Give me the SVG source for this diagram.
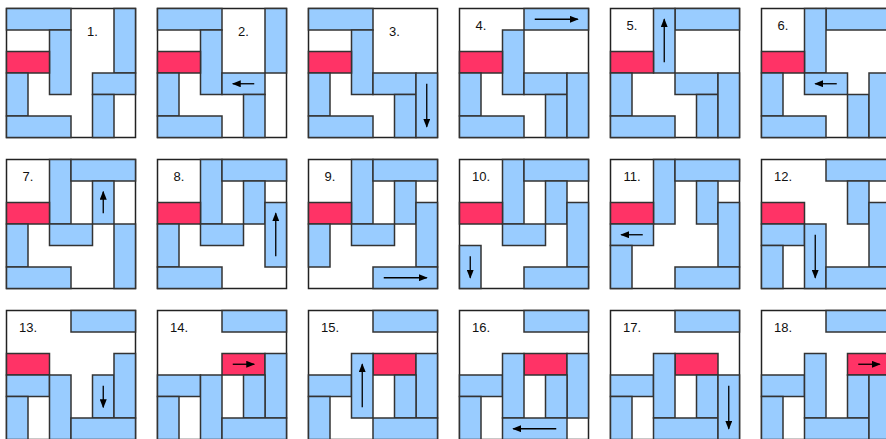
<svg xmlns="http://www.w3.org/2000/svg" width="886" height="439" viewBox="0 0 886 439">
<style>
.bd{fill:#fff;stroke:#222;stroke-width:1.5}
.b{fill:#99ccff;stroke:#333;stroke-width:1.5}
.r{fill:#ff3366;stroke:#333;stroke-width:1.5}
.t{font-family:"Liberation Sans",Arial,sans-serif;font-size:13px;fill:#111;text-anchor:middle}
.a{stroke:#000;stroke-width:1.3;fill:none;marker-end:url(#ah)}
</style>
<defs>
<marker id="ah" markerWidth="9" markerHeight="7" refX="8" refY="3.5" orient="auto" markerUnits="userSpaceOnUse"><path d="M0,0 L9,3.5 L0,7 z" fill="#000"/></marker>
</defs>
<rect width="886" height="439" fill="#fff"/>

<g id="p1" transform="translate(6.5,8.5)">
<rect class="bd" width="129" height="129"/>
<rect class="b" x="0" y="0" width="64.5" height="21.5"/>
<rect class="b" x="107.5" y="0" width="21.5" height="64.5"/>
<rect class="b" x="43" y="21.5" width="21.5" height="64.5"/>
<rect class="r" x="0" y="43" width="43" height="21.5"/>
<rect class="b" x="0" y="64.5" width="21.5" height="43"/>
<rect class="b" x="0" y="107.5" width="64.5" height="21.5"/>
<rect class="b" x="86" y="64.5" width="43" height="21.5"/>
<rect class="b" x="86" y="86" width="21.5" height="43"/>
<text class="t" x="86" y="27">1.</text>
</g>

<g id="p2" transform="translate(157.5,8.5)">
<rect class="bd" width="129" height="129"/>
<rect class="b" x="0" y="0" width="64.5" height="21.5"/>
<rect class="b" x="107.5" y="0" width="21.5" height="64.5"/>
<rect class="b" x="43" y="21.5" width="21.5" height="64.5"/>
<rect class="r" x="0" y="43" width="43" height="21.5"/>
<rect class="b" x="0" y="64.5" width="21.5" height="43"/>
<rect class="b" x="0" y="107.5" width="64.5" height="21.5"/>
<rect class="b" x="64.5" y="64.5" width="43" height="21.5"/>
<rect class="b" x="86" y="86" width="21.5" height="43"/>
<text class="t" x="86" y="27">2.</text>
</g>

<g id="p3" transform="translate(308.5,8.5)">
<rect class="bd" width="129" height="129"/>
<rect class="b" x="0" y="0" width="64.5" height="21.5"/>
<rect class="b" x="43" y="21.5" width="21.5" height="64.5"/>
<rect class="r" x="0" y="43" width="43" height="21.5"/>
<rect class="b" x="0" y="64.5" width="21.5" height="43"/>
<rect class="b" x="0" y="107.5" width="64.5" height="21.5"/>
<rect class="b" x="64.5" y="64.5" width="43" height="21.5"/>
<rect class="b" x="86" y="86" width="21.5" height="43"/>
<rect class="b" x="107.5" y="64.5" width="21.5" height="64.5"/>
<text class="t" x="86" y="27">3.</text>
</g>

<g id="p4" transform="translate(459.5,8.5)">
<rect class="bd" width="129" height="129"/>
<rect class="b" x="64.5" y="0" width="64.5" height="21.5"/>
<rect class="b" x="43" y="21.5" width="21.5" height="64.5"/>
<rect class="r" x="0" y="43" width="43" height="21.5"/>
<rect class="b" x="0" y="64.5" width="21.5" height="43"/>
<rect class="b" x="0" y="107.5" width="64.5" height="21.5"/>
<rect class="b" x="64.5" y="64.5" width="43" height="21.5"/>
<rect class="b" x="86" y="86" width="21.5" height="43"/>
<rect class="b" x="107.5" y="64.5" width="21.5" height="64.5"/>
<text class="t" x="21.5" y="21.5">4.</text>
</g>

<g id="p5" transform="translate(610.5,8.5)">
<rect class="bd" width="129" height="129"/>
<rect class="b" x="64.5" y="0" width="64.5" height="21.5"/>
<rect class="b" x="43" y="0" width="21.5" height="64.5"/>
<rect class="r" x="0" y="43" width="43" height="21.5"/>
<rect class="b" x="0" y="64.5" width="21.5" height="43"/>
<rect class="b" x="0" y="107.5" width="64.5" height="21.5"/>
<rect class="b" x="64.5" y="64.5" width="43" height="21.5"/>
<rect class="b" x="86" y="86" width="21.5" height="43"/>
<rect class="b" x="107.5" y="64.5" width="21.5" height="64.5"/>
<text class="t" x="21.5" y="21.5">5.</text>
</g>

<g id="p6" transform="translate(761.5,8.5)">
<rect class="bd" width="129" height="129"/>
<rect class="b" x="64.5" y="0" width="64.5" height="21.5"/>
<rect class="b" x="43" y="0" width="21.5" height="64.5"/>
<rect class="r" x="0" y="43" width="43" height="21.5"/>
<rect class="b" x="0" y="64.5" width="21.5" height="43"/>
<rect class="b" x="0" y="107.5" width="64.5" height="21.5"/>
<rect class="b" x="43" y="64.5" width="43" height="21.5"/>
<rect class="b" x="86" y="86" width="21.5" height="43"/>
<rect class="b" x="107.5" y="64.5" width="21.5" height="64.5"/>
<text class="t" x="21.5" y="21.5">6.</text>
</g>

<g id="p7" transform="translate(6.5,159.5)">
<rect class="bd" width="129" height="129"/>
<rect class="b" x="43" y="0" width="21.5" height="64.5"/>
<rect class="b" x="64.5" y="0" width="64.5" height="21.5"/>
<rect class="b" x="86" y="21.5" width="21.5" height="43"/>
<rect class="r" x="0" y="43" width="43" height="21.5"/>
<rect class="b" x="43" y="64.5" width="43" height="21.5"/>
<rect class="b" x="0" y="64.5" width="21.5" height="43"/>
<rect class="b" x="0" y="107.5" width="64.5" height="21.5"/>
<rect class="b" x="107.5" y="64.5" width="21.5" height="64.5"/>
<text class="t" x="21.5" y="21.5">7.</text>
</g>

<g id="p8" transform="translate(157.5,159.5)">
<rect class="bd" width="129" height="129"/>
<rect class="b" x="43" y="0" width="21.5" height="64.5"/>
<rect class="b" x="64.5" y="0" width="64.5" height="21.5"/>
<rect class="b" x="86" y="21.5" width="21.5" height="43"/>
<rect class="b" x="107.5" y="43" width="21.5" height="64.5"/>
<rect class="r" x="0" y="43" width="43" height="21.5"/>
<rect class="b" x="43" y="64.5" width="43" height="21.5"/>
<rect class="b" x="0" y="64.5" width="21.5" height="43"/>
<rect class="b" x="0" y="107.5" width="64.5" height="21.5"/>
<text class="t" x="21.5" y="21.5">8.</text>
</g>

<g id="p9" transform="translate(308.5,159.5)">
<rect class="bd" width="129" height="129"/>
<rect class="b" x="43" y="0" width="21.5" height="64.5"/>
<rect class="b" x="64.5" y="0" width="64.5" height="21.5"/>
<rect class="b" x="86" y="21.5" width="21.5" height="43"/>
<rect class="b" x="107.5" y="43" width="21.5" height="64.5"/>
<rect class="r" x="0" y="43" width="43" height="21.5"/>
<rect class="b" x="43" y="64.5" width="43" height="21.5"/>
<rect class="b" x="0" y="64.5" width="21.5" height="43"/>
<rect class="b" x="64.5" y="107.5" width="64.5" height="21.5"/>
<text class="t" x="21.5" y="21.5">9.</text>
</g>

<g id="p10" transform="translate(459.5,159.5)">
<rect class="bd" width="129" height="129"/>
<rect class="b" x="43" y="0" width="21.5" height="64.5"/>
<rect class="b" x="64.5" y="0" width="64.5" height="21.5"/>
<rect class="b" x="86" y="21.5" width="21.5" height="43"/>
<rect class="b" x="107.5" y="43" width="21.5" height="64.5"/>
<rect class="r" x="0" y="43" width="43" height="21.5"/>
<rect class="b" x="43" y="64.5" width="43" height="21.5"/>
<rect class="b" x="0" y="86" width="21.5" height="43"/>
<rect class="b" x="64.5" y="107.5" width="64.5" height="21.5"/>
<text class="t" x="21.5" y="21.5">10.</text>
</g>

<g id="p11" transform="translate(610.5,159.5)">
<rect class="bd" width="129" height="129"/>
<rect class="b" x="43" y="0" width="21.5" height="64.5"/>
<rect class="b" x="64.5" y="0" width="64.5" height="21.5"/>
<rect class="b" x="86" y="21.5" width="21.5" height="43"/>
<rect class="b" x="107.5" y="43" width="21.5" height="64.5"/>
<rect class="r" x="0" y="43" width="43" height="21.5"/>
<rect class="b" x="0" y="64.5" width="43" height="21.5"/>
<rect class="b" x="0" y="86" width="21.5" height="43"/>
<rect class="b" x="64.5" y="107.5" width="64.5" height="21.5"/>
<text class="t" x="21.5" y="21.5">11.</text>
</g>

<g id="p12" transform="translate(761.5,159.5)">
<rect class="bd" width="129" height="129"/>
<rect class="b" x="64.5" y="0" width="64.5" height="21.5"/>
<rect class="b" x="86" y="21.5" width="21.5" height="43"/>
<rect class="b" x="107.5" y="43" width="21.5" height="64.5"/>
<rect class="r" x="0" y="43" width="43" height="21.5"/>
<rect class="b" x="0" y="64.5" width="43" height="21.5"/>
<rect class="b" x="0" y="86" width="21.5" height="43"/>
<rect class="b" x="43" y="64.5" width="21.5" height="64.5"/>
<rect class="b" x="64.5" y="107.5" width="64.5" height="21.5"/>
<text class="t" x="21.5" y="21.5">12.</text>
</g>

<g id="p13" transform="translate(6.5,310.5)">
<rect class="bd" width="129" height="129"/>
<rect class="b" x="64.5" y="0" width="64.5" height="21.5"/>
<rect class="r" x="0" y="43" width="43" height="21.5"/>
<rect class="b" x="0" y="64.5" width="43" height="21.5"/>
<rect class="b" x="0" y="86" width="21.5" height="43"/>
<rect class="b" x="43" y="64.5" width="21.5" height="64.5"/>
<rect class="b" x="86" y="64.5" width="21.5" height="43"/>
<rect class="b" x="107.5" y="43" width="21.5" height="64.5"/>
<rect class="b" x="64.5" y="107.5" width="64.5" height="21.5"/>
<text class="t" x="21.5" y="21.5">13.</text>
</g>

<g id="p14" transform="translate(157.5,310.5)">
<rect class="bd" width="129" height="129"/>
<rect class="b" x="64.5" y="0" width="64.5" height="21.5"/>
<rect class="r" x="64.5" y="43" width="43" height="21.5"/>
<rect class="b" x="107.5" y="43" width="21.5" height="64.5"/>
<rect class="b" x="0" y="64.5" width="43" height="21.5"/>
<rect class="b" x="0" y="86" width="21.5" height="43"/>
<rect class="b" x="43" y="64.5" width="21.5" height="64.5"/>
<rect class="b" x="86" y="64.5" width="21.5" height="43"/>
<rect class="b" x="64.5" y="107.5" width="64.5" height="21.5"/>
<text class="t" x="21.5" y="21.5">14.</text>
</g>

<g id="p15" transform="translate(308.5,310.5)">
<rect class="bd" width="129" height="129"/>
<rect class="b" x="64.5" y="0" width="64.5" height="21.5"/>
<rect class="r" x="64.5" y="43" width="43" height="21.5"/>
<rect class="b" x="107.5" y="43" width="21.5" height="64.5"/>
<rect class="b" x="0" y="64.5" width="43" height="21.5"/>
<rect class="b" x="0" y="86" width="21.5" height="43"/>
<rect class="b" x="43" y="43" width="21.5" height="64.5"/>
<rect class="b" x="86" y="64.5" width="21.5" height="43"/>
<rect class="b" x="64.5" y="107.5" width="64.5" height="21.5"/>
<text class="t" x="21.5" y="21.5">15.</text>
</g>

<g id="p16" transform="translate(459.5,310.5)">
<rect class="bd" width="129" height="129"/>
<rect class="b" x="64.5" y="0" width="64.5" height="21.5"/>
<rect class="r" x="64.5" y="43" width="43" height="21.5"/>
<rect class="b" x="107.5" y="43" width="21.5" height="64.5"/>
<rect class="b" x="0" y="64.5" width="43" height="21.5"/>
<rect class="b" x="0" y="86" width="21.5" height="43"/>
<rect class="b" x="43" y="43" width="21.5" height="64.5"/>
<rect class="b" x="86" y="64.5" width="21.5" height="43"/>
<rect class="b" x="43" y="107.5" width="64.5" height="21.5"/>
<text class="t" x="21.5" y="21.5">16.</text>
</g>

<g id="p17" transform="translate(610.5,310.5)">
<rect class="bd" width="129" height="129"/>
<rect class="b" x="64.5" y="0" width="64.5" height="21.5"/>
<rect class="r" x="64.5" y="43" width="43" height="21.5"/>
<rect class="b" x="0" y="64.5" width="43" height="21.5"/>
<rect class="b" x="0" y="86" width="21.5" height="43"/>
<rect class="b" x="43" y="43" width="21.5" height="64.5"/>
<rect class="b" x="86" y="64.5" width="21.5" height="43"/>
<rect class="b" x="43" y="107.5" width="64.5" height="21.5"/>
<rect class="b" x="107.5" y="64.5" width="21.5" height="64.5"/>
<text class="t" x="21.5" y="21.5">17.</text>
</g>

<g id="p18" transform="translate(761.5,310.5)">
<rect class="bd" width="129" height="129"/>
<rect class="b" x="64.5" y="0" width="64.5" height="21.5"/>
<rect class="r" x="86" y="43" width="43" height="21.5"/>
<rect class="b" x="0" y="64.5" width="43" height="21.5"/>
<rect class="b" x="0" y="86" width="21.5" height="43"/>
<rect class="b" x="43" y="43" width="21.5" height="64.5"/>
<rect class="b" x="86" y="64.5" width="21.5" height="43"/>
<rect class="b" x="43" y="107.5" width="64.5" height="21.5"/>
<rect class="b" x="107.5" y="64.5" width="21.5" height="64.5"/>
<text class="t" x="21.5" y="21.5">18.</text>
</g>

<g id="connectors">
<path class="a" transform="translate(157.5,8.5)" d="M96.75,75.25 H75.25"/>
<path class="a" transform="translate(308.5,8.5)" d="M118.25,75.25 V118.25"/>
<path class="a" transform="translate(459.5,8.5)" d="M75.25,10.75 H118.25"/>
<path class="a" transform="translate(610.5,8.5)" d="M53.75,53.75 V10.75"/>
<path class="a" transform="translate(761.5,8.5)" d="M75.25,75.25 H53.75"/>
<path class="a" transform="translate(6.5,159.5)" d="M96.75,53.75 V32.25"/>
<path class="a" transform="translate(157.5,159.5)" d="M118.25,96.75 V53.75"/>
<path class="a" transform="translate(308.5,159.5)" d="M75.25,118.25 H118.25"/>
<path class="a" transform="translate(459.5,159.5)" d="M10.75,96.75 V118.25"/>
<path class="a" transform="translate(610.5,159.5)" d="M32.25,75.25 H10.75"/>
<path class="a" transform="translate(761.5,159.5)" d="M53.75,75.25 V118.25"/>
<path class="a" transform="translate(6.5,310.5)" d="M96.75,75.25 V96.75"/>
<path class="a" transform="translate(157.5,310.5)" d="M75.25,53.75 H96.75"/>
<path class="a" transform="translate(308.5,310.5)" d="M53.75,96.75 V53.75"/>
<path class="a" transform="translate(459.5,310.5)" d="M96.75,118.25 H53.75"/>
<path class="a" transform="translate(610.5,310.5)" d="M118.25,75.25 V118.25"/>
<path class="a" transform="translate(761.5,310.5)" d="M96.75,53.75 H118.25"/>
</g>
</svg>
